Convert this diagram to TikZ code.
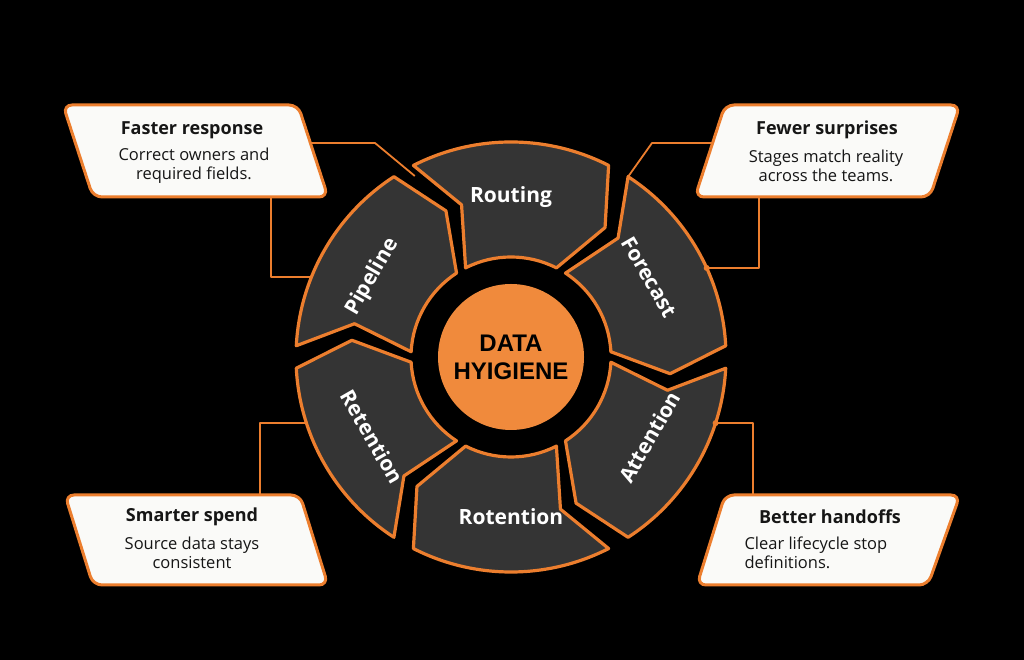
\documentclass[tikz,border=0pt]{standalone}
\usepackage{fontspec}
\setmainfont{Open Sans}
\newfontfamily\hubfont{Liberation Sans}
\usetikzlibrary{calc}
\definecolor{org}{RGB}{236,126,46}
\definecolor{orgfill}{RGB}{240,138,60}
\definecolor{segfill}{RGB}{52,52,52}
\definecolor{boxfill}{RGB}{250,250,248}
\definecolor{ink}{RGB}{22,22,22}
\begin{document}
\begin{tikzpicture}[x=1pt,y=1pt,
 seg/.style={fill=segfill, draw=org, line width=3.2pt, line join=round},
 seglabel/.style={text=white, font=\bfseries\fontsize{21}{24}\selectfont},
 callout/.style={fill=boxfill, draw=org, line width=3pt, rounded corners=9pt},
 ctitle/.style={text=ink, font=\bfseries\fontsize{18}{20}\selectfont},
 cbody/.style={text=ink, font=\fontsize{16.5}{19}\selectfont, align=center},
 link/.style={draw=org, line width=1.8pt, line join=round},
 dot/.style={circle, fill=org, inner sep=0pt, minimum size=6pt}]
\fill[black] (0,0) rectangle (1024,660);
\useasboundingbox (0,0) rectangle (1024,660);
\coordinate (c) at (511,303);
% connector end points
\coordinate (fr-r) at (310,517);
\coordinate (fr-b) at (271,463);
\coordinate (fs-l) at (712,517);
\coordinate (fs-b) at (759,463);
\coordinate (ss-t) at (260,165);
\coordinate (bh-t) at (753,165);
\coordinate (rt-end) at ($(c)+(118:205)$);
\coordinate (pl-end) at ($(c)+(158.15:215)$);
\coordinate (fc-corner) at ($(c)+(57:215)$);
\coordinate (fc-end) at ($(c)+(24.45:215)$);
\coordinate (re-end) at ($(c)+(197.9:215)$);
\coordinate (at-end) at ($(c)+(-17.9:215)$);
% connectors
\draw[link] (fr-r) -- ++(65,0) -- (rt-end);
\draw[link] (fr-b) |- (pl-end);
\draw[link] (fs-l) -- ++(-60,0) -- (fc-corner);
\draw[link] (fs-b) |- (fc-end);
\draw[link] (ss-t) |- (re-end);
\draw[link] (bh-t) |- (at-end);
% segments
\foreach \name/\a/\rot/\txt in {routing/90/0/Routing, forecast/30/-60/Forecast, attention/-30/60/Attention, rotention/-90/0/Rotention, retention/210/-60/Retention, pipeline/150/60/Pipeline}{
  \begin{scope}[shift={(c)}]
    \draw[seg] (\a+27:215) arc[start angle=\a+27, end angle=\a-27, radius=215pt]
      -- (\a-36:160) -- (\a-27:100)
      arc[start angle=\a-27, end angle=\a+27, radius=100pt]
      -- (\a+18:160) -- cycle;
  \end{scope}
  \node[seglabel, rotate=\rot, inner sep=0pt] (\name) at ($(c)+(\a:160)$) {\txt};
}
\node[dot] (dot1) at (fc-end) {};
\node[dot] (dot2) at (at-end) {};
% hub
\node[circle, fill=orgfill, minimum size=146pt, inner sep=0pt, align=center,
  font=\hubfont\bfseries\fontsize{24}{28}\selectfont, text=black] (hub) at (c) {DATA\\HYIGIENE};
% callouts
\path[callout] (63,555) -- (298,555) -- (328,463) -- (93,463) -- cycle;
\path[callout] (725,555) -- (960,555) -- (930,463) -- (695,463) -- cycle;
\path[callout] (65,165) -- (300,165) -- (328,75) -- (93,75) -- cycle;
\path[callout] (725,165) -- (960,165) -- (928,75) -- (697,75) -- cycle;
\node[ctitle] (t1) at (192,530) {Faster response};
\node[cbody] (b1) at (194,494) {Correct owners and\\required fields.};
\node[ctitle] (t2) at (827,530) {Fewer surprises};
\node[cbody] (b2) at (826,494) {Stages match reality\\across the teams.};
\node[ctitle] (t3) at (192,143) {Smarter spend};
\node[cbody] (b3) at (192,107) {Source data stays\\consistent};
\node[ctitle] (t4) at (830,143) {Better handoffs};
\node[cbody, align=left, anchor=west] (b4) at (741,107) {Clear lifecycle stop\\definitions.};
\end{tikzpicture}
\end{document}
